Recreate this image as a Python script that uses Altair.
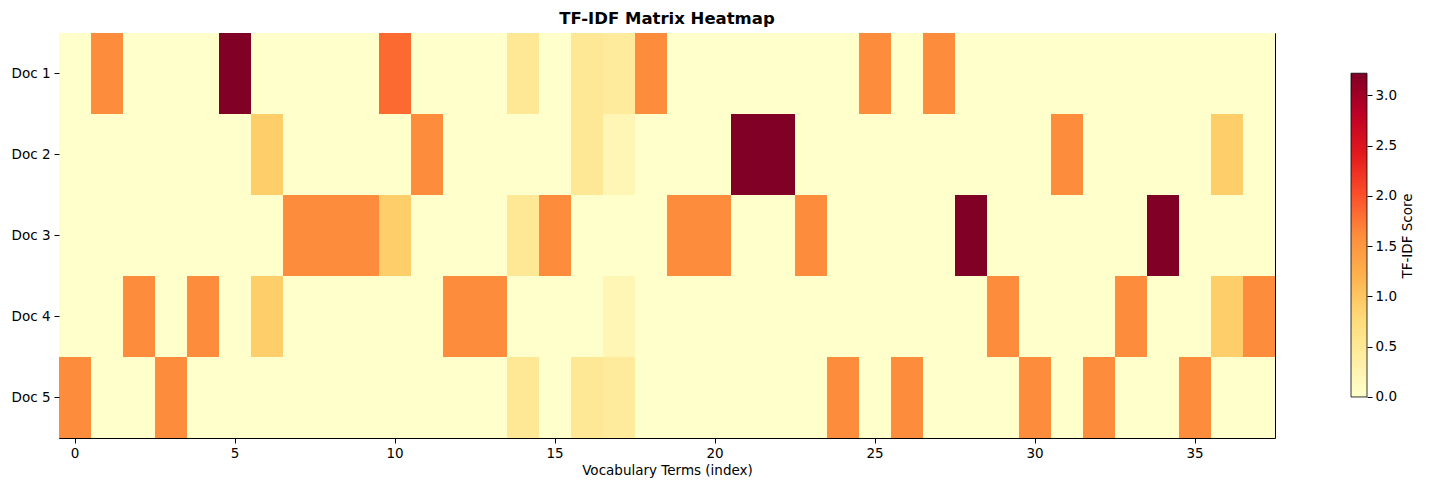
import altair as alt
import pandas as pd

# ---- data ----
docs = ["Doc 1", "Doc 2", "Doc 3", "Doc 4", "Doc 5"]
terms = list(range(38))

#        0      1      2      3      4      5      6      7      8      9
doc1 = [0.0, 1.609, 0.0, 0.0, 0.0, 3.219, 0.0, 0.0, 0.0, 0.0,
        1.833, 0.0, 0.0, 0.0, 0.511, 0.0, 0.511, 0.446, 1.609, 0.0,
        0.0, 0.0, 0.0, 0.0, 0.0, 1.609, 0.0, 1.609, 0.0, 0.0,
        0.0, 0.0, 0.0, 0.0, 0.0, 0.0, 0.0, 0.0]
doc2 = [0.0, 0.0, 0.0, 0.0, 0.0, 0.0, 0.916, 0.0, 0.0, 0.0,
        0.0, 1.609, 0.0, 0.0, 0.0, 0.0, 0.511, 0.223, 0.0, 0.0,
        0.0, 3.219, 3.219, 0.0, 0.0, 0.0, 0.0, 0.0, 0.0, 0.0,
        0.0, 1.609, 0.0, 0.0, 0.0, 0.0, 0.916, 0.0]
doc3 = [0.0, 0.0, 0.0, 0.0, 0.0, 0.0, 0.0, 1.609, 1.609, 1.609,
        0.916, 0.0, 0.0, 0.0, 0.511, 1.609, 0.0, 0.0, 0.0, 1.609,
        1.609, 0.0, 0.0, 1.609, 0.0, 0.0, 0.0, 0.0, 3.219, 0.0,
        0.0, 0.0, 0.0, 0.0, 3.219, 0.0, 0.0, 0.0]
doc4 = [0.0, 0.0, 1.609, 0.0, 1.609, 0.0, 0.916, 0.0, 0.0, 0.0,
        0.0, 0.0, 1.609, 1.609, 0.0, 0.0, 0.0, 0.223, 0.0, 0.0,
        0.0, 0.0, 0.0, 0.0, 0.0, 0.0, 0.0, 0.0, 0.0, 1.609,
        0.0, 0.0, 0.0, 1.609, 0.0, 0.0, 0.916, 1.609]
doc5 = [1.609, 0.0, 0.0, 1.609, 0.0, 0.0, 0.0, 0.0, 0.0, 0.0,
        0.0, 0.0, 0.0, 0.0, 0.511, 0.0, 0.511, 0.446, 0.0, 0.0,
        0.0, 0.0, 0.0, 0.0, 1.609, 0.0, 1.609, 0.0, 0.0, 0.0,
        1.609, 0.0, 1.609, 0.0, 0.0, 1.609, 0.0, 0.0]

colorbar_ticks = [0.0, 0.5, 1.0, 1.5, 2.0, 2.5, 3.0]
x_ticks = [0, 5, 10, 15, 20, 25, 30, 35]

ylorrd = ["#ffffcc", "#ffeda0", "#fed976", "#feb24c", "#fd8d3c",
          "#fc4e2a", "#e31a1c", "#bd0026", "#800026"]

rows = []
for d, vals in zip(docs, [doc1, doc2, doc3, doc4, doc5]):
    for t, v in zip(terms, vals):
        rows.append({"doc": d, "term": t, "score": v})
df = pd.DataFrame(rows)

vmax = float(df["score"].max())
n = len(ylorrd) - 1
color_scale = alt.Scale(domain=[vmax * k / n for k in range(n + 1)],
                        range=ylorrd, interpolate="rgb")

FONT = "DejaVu Sans"

heat = alt.Chart(df).mark_rect().encode(
    x=alt.X("term:O", sort="ascending",
            scale=alt.Scale(paddingInner=0, paddingOuter=0),
            axis=alt.Axis(values=x_ticks, labelAngle=0, title="Vocabulary Terms (index)",
                          tickSize=5, tickColor="black", labelPadding=3,
                          domain=False, titlePadding=4,
                          labelFont=FONT, labelFontSize=13.5, labelColor="black",
                          titleFont=FONT, titleFontSize=13.5, titleFontWeight="normal",
                          titleColor="black")),
    y=alt.Y("doc:O", sort=docs,
            scale=alt.Scale(paddingInner=0, paddingOuter=0),
            axis=alt.Axis(title=None, tickSize=5, tickColor="black", labelPadding=4,
                          domain=False, labelFont=FONT, labelFontSize=13.5,
                          labelColor="black")),
    color=alt.Color("score:Q", scale=color_scale, legend=None),
).properties(
    width=1216, height=405,
    view=alt.ViewBackground(stroke="black", strokeWidth=1),
    title=alt.TitleParams("TF-IDF Matrix Heatmap", font=FONT, fontSize=16.5,
                          fontWeight="bold", color="black", offset=6, anchor="middle"),
)

grad = alt.Gradient(
    gradient="linear",
    stops=[alt.GradientStop(color=c, offset=k / n) for k, c in enumerate(ylorrd)],
    x1=0, x2=0, y1=1, y2=0,
)

cbar_df = pd.DataFrame({"lo": [0.0], "hi": [vmax]})
cbar = alt.Chart(cbar_df).mark_rect(fill=grad, stroke="black", strokeWidth=0.8).encode(
    y=alt.Y("lo:Q",
            scale=alt.Scale(domain=[-0.408, 3.619], nice=False, zero=False),
            axis=alt.Axis(orient="right", values=colorbar_ticks, format=".1f",
                          title="TF-IDF Score", titleAngle=270, titleBaseline="top",
                          grid=False, domain=False,
                          tickSize=5, tickColor="black", labelPadding=3,
                          labelFont=FONT, labelFontSize=13.5, labelColor="black",
                          titleFont=FONT, titleFontSize=13.5, titleFontWeight="normal",
                          titleColor="black", titlePadding=4)),
    y2="hi:Q",
    x=alt.value(0),
    x2=alt.value(16),
).properties(width=16, height=405, view=alt.ViewBackground(stroke=None))

chart = alt.hconcat(heat, cbar, spacing=76, bounds="flush").properties(
    padding={"left": 2, "top": 2, "right": 5, "bottom": 5},
    background="white",
)

chart.save("out.html", embed_options={"renderer": "svg", "actions": False})
